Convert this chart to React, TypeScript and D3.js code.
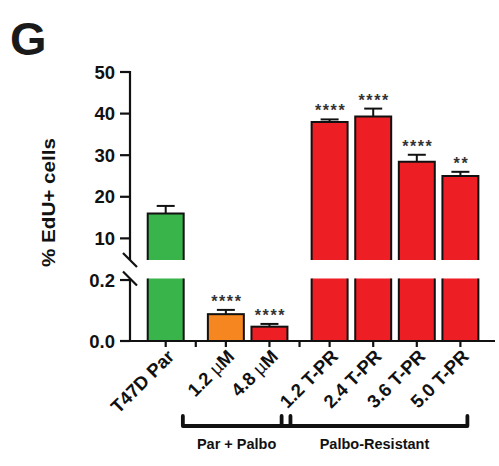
import React from "react";
import * as d3 from "d3";

const categories = ["T47D Par", "1.2 µM", "4.8 µM", "1.2 T-PR", "2.4 T-PR", "3.6 T-PR", "5.0 T-PR"];
const groupIndex = [0, 1, 1, 2, 2, 2, 2];
const means = [16.0, 0.088, 0.047, 38.0, 39.3, 28.4, 25.0];
const errors = [1.8, 0.014, 0.009, 0.6, 1.9, 1.7, 1.0];
const signif = ["", "****", "****", "****", "****", "****", "**"];
const barColors = ["#38b44a", "#f6861f", "#ed1f24", "#ed1f24", "#ed1f24", "#ed1f24", "#ed1f24"];
const upperTicks = [10, 20, 30, 40, 50];
const lowerTicks = [0, 0.2];
const brackets = [
  { label: "Par + Palbo", first: 1, last: 2, padL: 43, padR: -21 },
  { label: "Palbo-Resistant", first: 3, last: 6, padL: 48, padR: -7 },
];

const FONT = "'Liberation Sans', Arial, Helvetica, sans-serif";
const GAP = 0.38;

export default function App() {
  const W = 499, H = 466;
  const pos = categories.map((_, i) => i + groupIndex[i] * GAP);
  const x = d3.scaleLinear().domain([0, 6 + 2 * GAP]).range([165.7, 460.4]);
  const unit = x(1) - x(0);
  const bw = unit * 0.825;
  const gapTicks = [1, 3].map((i) => (pos[i - 1] + pos[i]) / 2);

  const yU = d3.scaleLinear().domain([4.8, 50]).range([260, 72]);
  const yL = d3.scaleLinear().domain([0, 0.205]).range([341, 278.5]);
  const base = yL(0);
  const axisX = 130;
  const breakU = yU.range()[0];
  const breakL = yL.range()[1];
  const lowerMax = yL.domain()[1];

  const yOf = (v: number) => (v > lowerMax ? yU(v) : yL(v));

  return (
    <svg width={W} height={H} style={{ position: "absolute", left: 0, top: 0, background: "#fff" }} fontFamily={FONT}>
      <text x={10} y={55} fontSize={47} fontWeight="bold" fill="#1a1a1a">G</text>

      {/* bars */}
      {means.map((m, i) => {
        const cx = x(pos[i]);
        const x0 = cx - bw / 2, x1 = cx + bw / 2;
        const col = barColors[i];
        if (m > lowerMax) {
          const top = yU(m);
          return (
            <g key={i}>
              <rect x={x0} y={top} width={bw} height={breakU - top} fill={col} />
              <path d={`M${x0},${breakU}V${top}H${x1}V${breakU}`} fill="none" stroke="#111" strokeWidth={2} />
              <rect x={x0} y={breakL} width={bw} height={base - breakL} fill={col} />
              <path d={`M${x0},${breakL}V${base}M${x1},${breakL}V${base}`} fill="none" stroke="#111" strokeWidth={2} />
            </g>
          );
        }
        const top = yL(m);
        return <rect key={i} x={x0} y={top} width={bw} height={base - top} fill={col} stroke="#111" strokeWidth={2} />;
      })}

      {/* error bars */}
      {means.map((m, i) => {
        const cx = x(pos[i]);
        const t = yOf(m), e = yOf(m + errors[i]);
        return (
          <g key={i} stroke="#111" strokeWidth={2}>
            <line x1={cx} x2={cx} y1={t} y2={e} />
            <line x1={cx - 9} x2={cx + 9} y1={e} y2={e} />
          </g>
        );
      })}

      {/* significance */}
      {means.map((m, i) => (
        <text key={i} x={x(pos[i]) + 1} y={yOf(m + errors[i]) - 3} textAnchor="middle" fontSize={16} fontWeight="bold" letterSpacing={1.6} fill="#333">
          {signif[i]}
        </text>
      ))}

      {/* y axis */}
      <g stroke="#111" strokeWidth={2.2} fill="none">
        <line x1={axisX} x2={axisX} y1={yU(50) - 1} y2={breakU} />
        <line x1={axisX} x2={axisX} y1={breakL} y2={base} />
        <line x1={axisX - 7} x2={axisX + 7} y1={breakU - 7} y2={breakU + 7} />
        <line x1={axisX - 7} x2={axisX + 7} y1={breakL - 7} y2={breakL + 7} />
        {upperTicks.map((t) => (
          <line key={t} x1={axisX - 10} x2={axisX} y1={yU(t)} y2={yU(t)} />
        ))}
        {lowerTicks.map((t) => (
          <line key={t} x1={axisX - 10} x2={axisX} y1={yL(t)} y2={yL(t)} />
        ))}
        <line x1={axisX - 10} x2={495} y1={base} y2={base} />
        {pos.concat(gapTicks).map((p, i) => (
          <line key={i} x1={x(p)} x2={x(p)} y1={base} y2={base + 6} />
        ))}
      </g>
      {upperTicks.map((t) => (
        <text key={t} x={115} y={yU(t)} dy="0.36em" textAnchor="end" fontSize={18.5} fontWeight="bold" fill="#111">
          {t}
        </text>
      ))}
      {lowerTicks.map((t) => (
        <text key={t} x={115} y={yL(t)} dy="0.36em" textAnchor="end" fontSize={18.5} fontWeight="bold" fill="#111">
          {d3.format(".1f")(t)}
        </text>
      ))}
      <text transform={`translate(55,202.5) rotate(-90)`} textAnchor="middle" fontSize={18} fontWeight="bold" fill="#111" textLength={129} lengthAdjust="spacingAndGlyphs">
        % EdU+ cells
      </text>

      {/* category labels */}
      {categories.map((c, i) => {
        const parts = c.split("µ");
        return (
          <text key={i} transform={`translate(${x(pos[i]) + 5},${base + 12}) rotate(-45)`} textAnchor="end" dy="0.35em" fontSize={18.5} fontWeight="bold" fill="#111">
            {parts.length > 1 ? (
              <>
                {parts[0]}
                <tspan fontWeight="normal">µ</tspan>
                {parts[1]}
              </>
            ) : (
              c
            )}
          </text>
        );
      })}

      {/* brackets */}
      {brackets.map((b, i) => {
        const xa = x(pos[b.first]) - b.padL;
        const xb = x(pos[b.last]) - b.padR;
        return (
          <g key={i}>
            <path d={`M${xa},416V426H${xb}V416`} fill="none" stroke="#111" strokeWidth={3.8} strokeLinejoin="round" strokeLinecap="round" />
            <text x={(xa + xb) / 2} y={449} textAnchor="middle" fontSize={14.5} fontWeight="bold" fill="#111">
              {b.label}
            </text>
          </g>
        );
      })}
    </svg>
  );
}
